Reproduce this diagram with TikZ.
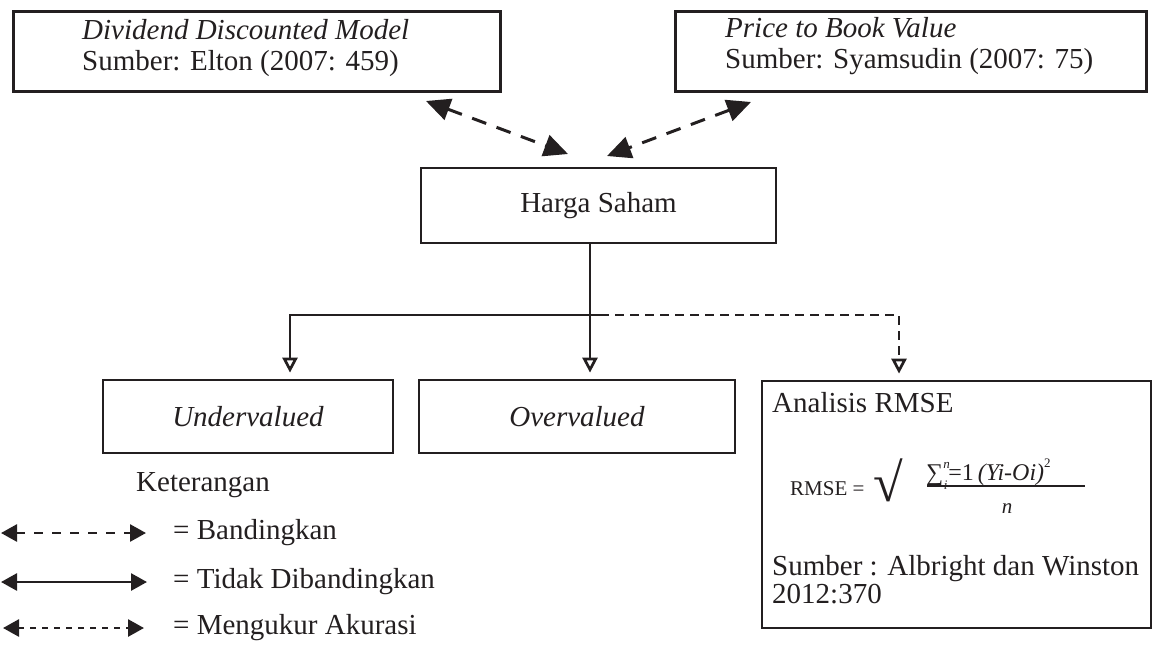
\documentclass[tikz,border=0pt]{standalone}
\usepackage{fontspec}
\setmainfont{Liberation Serif}
\usetikzlibrary{arrows.meta}
\definecolor{ink}{RGB}{35,31,32}
\begin{document}
\begin{tikzpicture}[x=1pt,y=-1pt,
  every node/.style={text=ink, inner sep=0pt},
  box/.style={draw=ink, line width=2.8pt, rectangle, inner sep=0pt},
  txt/.style={font=\fontsize{29}{31}\selectfont},
  small/.style={font=\fontsize{21}{21}\selectfont},
  cmp/.style={draw=ink, line width=3pt, dash pattern=on 15pt off 11pt,
    {Triangle[length=24pt,width=22pt]}-{Triangle[length=24pt,width=22pt]}},
  link/.style={draw=ink, line width=2.7pt},
  openhead/.style={-{Triangle[open,fill=white,length=15pt,width=15pt]}, shorten >=6pt},
  lgd/.style={draw=ink, line width=2.7pt,
    {Triangle[length=16pt,width=17pt]}-{Triangle[length=16pt,width=17pt]}}
]
\useasboundingbox (0,0) rectangle (1155,646);

% top boxes
\node[box, anchor=north west, minimum width=487pt, minimum height=80pt] (ddm) at (12,10) {};
\node[txt, anchor=west, align=left] (ddmt) at (82,48) {\textit{Dividend Discounted Model}\\Sumber: Elton (2007: 459)};
\node[box, anchor=north west, minimum width=471pt, minimum height=80pt] (pbv) at (674,10) {};
\node[txt, anchor=west, align=left] (pbvt) at (725,46) {\textit{Price to Book Value}\\Sumber: Syamsudin (2007: 75)};

% middle box
\node[box, txt, minimum width=355pt, minimum height=75pt] (harga) at (598.5,205.5) {Harga Saham};

% bottom boxes
\node[box, txt, minimum width=290pt, minimum height=73pt] (under) at (248,416.5) {\textit{Undervalued}};
\node[box, txt, minimum width=316pt, minimum height=73pt] (over) at (577,416.5) {\textit{Overvalued}};
\node[box, minimum width=389pt, minimum height=247pt] (rmse) at (956.5,504.5) {};

% comparison arrows
\coordinate (l1) at (426,101);
\coordinate (l2) at (568,154);
\coordinate (r1) at (751,102);
\coordinate (r2) at (607,156);
\draw[cmp] (l1) -- (l2);
\draw[cmp] (r1) -- (r2);

% branches
\coordinate (j) at (590,315);
\coordinate (js) at (600,315);
\draw[link, openhead] (harga.south -| j) -- ([xshift=13pt]over.north);
\draw[link, openhead] (js) -| ([xshift=42pt]under.north);
\draw[link, openhead, dash pattern=on 9pt off 6pt] (js) -| ([xshift=-57.5pt]rmse.north);

% RMSE content
\node[txt, anchor=west] (ana) at (772,403) {Analisis RMSE};
\node[small, anchor=west] (rm) at (790,489) {RMSE =};
\node[font=\fontsize{54}{54}\selectfont] (sq) at (888,480) {√};
\node[font=\fontsize{24}{24}\selectfont, anchor=west] (num) at (926,474) {∑\raisebox{0.5em}{\fontsize{13}{13}\selectfont\textit{n}}\kern-6pt\raisebox{-0.35em}{\fontsize{13}{13}\selectfont\textit{i}}\kern1pt=1\,\textit{(Yi-Oi)}\raisebox{0.55em}{\fontsize{13}{13}\selectfont 2}};
\draw[draw=ink, line width=2.2pt] (927,486) -- (1085,486);
\node[small] (den) at (1007,509) {\textit{n}};
\node[txt, anchor=west, align=left, font=\fontsize{29}{28}\selectfont] (src) at (772,580) {Sumber : Albright dan Winston\\2012:370};

% legend
\node[txt, anchor=west] (ket) at (136,485) {Keterangan};
\coordinate (a1) at (1,533);
\coordinate (a2) at (146,533);
\coordinate (b1) at (1,582);
\coordinate (b2) at (147,582);
\coordinate (c1) at (3,628);
\coordinate (c2) at (144,628);
\draw[lgd, dash pattern=on 9pt off 9pt] (a1) -- (a2);
\draw[lgd] (b1) -- (b2);
\draw[lgd, dash pattern=on 6pt off 6pt] (c1) -- (c2);
\node[txt, anchor=west] (la) at (173,533) {= Bandingkan};
\node[txt, anchor=west] (lb) at (173,582) {= Tidak Dibandingkan};
\node[txt, anchor=west] (lc) at (173,628) {= Mengukur Akurasi};
\end{tikzpicture}
\end{document}
